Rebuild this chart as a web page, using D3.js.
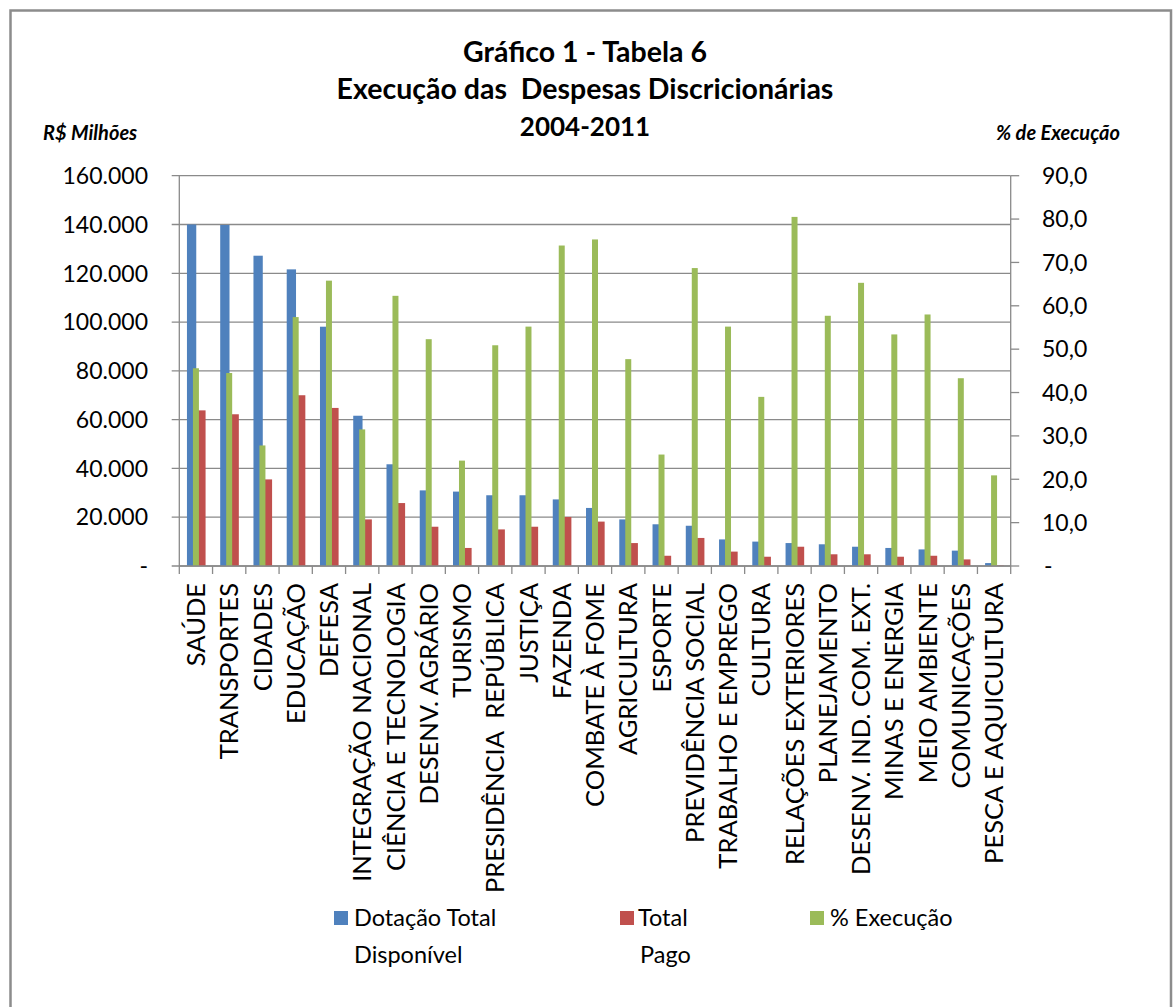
<!DOCTYPE html>
<html>
<head>
<meta charset="utf-8">
<script src="https://cdn.jsdelivr.net/npm/d3@7"></script>
<style>
  html, body { margin: 0; padding: 0; background: #fff; }
  svg { display: block; }
  text { font-family: Lato, "Open Sans", sans-serif; fill: #000; }
</style>
</head>
<body>
<svg id="chart" width="1174" height="1007"></svg>
<script>
const categories = ["SAÚDE","TRANSPORTES","CIDADES","EDUCAÇÃO","DEFESA","INTEGRAÇÃO NACIONAL","CIÊNCIA E TECNOLOGIA","DESENV. AGRÁRIO","TURISMO","PRESIDÊNCIA  REPÚBLICA","JUSTIÇA","FAZENDA","COMBATE À FOME","AGRICULTURA","ESPORTE","PREVIDÊNCIA SOCIAL","TRABALHO E EMPREGO","CULTURA","RELAÇÕES EXTERIORES","PLANEJAMENTO","DESENV. IND. COM. EXT.","MINAS E ENERGIA","MEIO AMBIENTE","COMUNICAÇÕES","PESCA E AQUICULTURA"];
const dotacao = [140000,139800,127200,121600,98100,61600,41700,31000,30500,29000,29000,27300,23800,19100,17100,16500,10900,10000,9400,8900,7900,7400,6800,6300,1200];
const pago = [63800,62200,35500,70000,64800,19100,25800,16100,7400,15000,16100,20100,18200,9400,4200,11500,5900,3800,7900,4800,4800,3800,4200,2700,200];
const execucao = [45.6,44.5,27.8,57.4,65.8,31.5,62.3,52.3,24.3,50.9,55.2,73.9,75.3,47.7,25.7,68.7,55.2,39.0,80.5,57.7,65.3,53.4,58.0,43.3,20.9];
const leftTicks = [0,20000,40000,60000,80000,100000,120000,140000,160000];
const leftTickLabels = ["-","20.000","40.000","60.000","80.000","100.000","120.000","140.000","160.000"];
const rightTicks = [0,10,20,30,40,50,60,70,80,90];
const rightTickLabels = ["-","10,0","20,0","30,0","40,0","50,0","60,0","70,0","80,0","90,0"];
const titleLines = ["Gráfico 1 - Tabela 6","Execução das  Despesas Discricionárias","2004-2011"];
const legendItems = [
  {lines:["Dotação Total","Disponível"], color:"#4F81BD"},
  {lines:["Total","Pago"], color:"#C0504D"},
  {lines:["% Execução"], color:"#9BBB59"}
];

const svg = d3.select("#chart");
const plot = {left:179.3, right:1010.7, top:175.7, bottom:566};
const gridColor = "#8a8a8a";

// frame
svg.append("rect").attr("x",10.5).attr("y",10.5).attr("width",1160.5).attr("height",1010)
  .attr("fill","#fff").attr("stroke","#8c8c8c").attr("stroke-width",2.5);

const x = d3.scaleBand().domain(categories).range([plot.left, plot.right]).padding(0);
const sub = d3.scaleBand().domain(["dot","pago"]).range([x.bandwidth()*0.23, x.bandwidth()*0.79]).padding(0);
const yL = d3.scaleLinear().domain([0,160000]).range([plot.bottom, plot.top]);
const yR = d3.scaleLinear().domain([0,90]).range([plot.bottom, plot.top]);

// gridlines with left ticks
svg.append("g").selectAll("line").data(leftTicks).join("line")
  .attr("x1", plot.left-7.6).attr("x2", plot.right)
  .attr("y1", d=>yL(d)).attr("y2", d=>yL(d))
  .attr("stroke", gridColor).attr("stroke-width",1.3);

// left axis line
svg.append("line").attr("x1",plot.left).attr("x2",plot.left).attr("y1",plot.top).attr("y2",plot.bottom+8)
  .attr("stroke",gridColor).attr("stroke-width",1.3);
// right axis line + ticks
svg.append("line").attr("x1",plot.right).attr("x2",plot.right).attr("y1",plot.top).attr("y2",plot.bottom+8)
  .attr("stroke",gridColor).attr("stroke-width",1.3);
svg.append("g").selectAll("line").data(rightTicks).join("line")
  .attr("x1", plot.right).attr("x2", plot.right+8.5)
  .attr("y1", d=>yR(d)).attr("y2", d=>yR(d))
  .attr("stroke", gridColor).attr("stroke-width",1.3);
// bottom category ticks
svg.append("g").selectAll("line").data(categories.slice(1)).join("line")
  .attr("x1", d=>x(d)).attr("x2", d=>x(d))
  .attr("y1", plot.bottom).attr("y2", plot.bottom+8)
  .attr("stroke", gridColor).attr("stroke-width",1.3);

// bars
const bars = svg.append("g");
bars.selectAll("rect.dot").data(categories).join("rect").attr("class","dot")
  .attr("x", d=>x(d)+sub("dot")).attr("width", sub.bandwidth())
  .attr("y", (d,i)=>yL(dotacao[i])).attr("height", (d,i)=>plot.bottom-yL(dotacao[i]))
  .attr("fill","#4F81BD");
bars.selectAll("rect.pago").data(categories).join("rect").attr("class","pago")
  .attr("x", d=>x(d)+sub("pago")).attr("width", sub.bandwidth())
  .attr("y", (d,i)=>yL(pago[i])).attr("height", (d,i)=>plot.bottom-yL(pago[i]))
  .attr("fill","#C0504D");
const gw = x.bandwidth()*0.18;
bars.selectAll("rect.exe").data(categories).join("rect").attr("class","exe")
  .attr("x", d=>x(d)+x.bandwidth()/2-gw/2).attr("width", gw)
  .attr("y", (d,i)=>yR(execucao[i])).attr("height", (d,i)=>plot.bottom-yR(execucao[i]))
  .attr("fill","#9BBB59");

// redraw bottom axis line on top
svg.append("line").attr("x1",plot.left).attr("x2",plot.right).attr("y1",plot.bottom).attr("y2",plot.bottom)
  .attr("stroke",gridColor).attr("stroke-width",1.3);

// left tick labels
svg.append("g").selectAll("text").data(leftTicks).join("text")
  .attr("x",148).attr("y", d=>yL(d)).attr("dy","0.36em")
  .attr("text-anchor","end").attr("font-size",23)
  .attr("fill","#222")
  .text((d,i)=>leftTickLabels[i]);
// right tick labels
svg.append("g").selectAll("text").data(rightTicks).join("text")
  .attr("x", d=> d===0 ? 1044 : 1042).attr("y", d=>yR(d)).attr("dy","0.36em")
  .attr("text-anchor","start").attr("font-size",23)
  .attr("fill","#222")
  .text((d,i)=>rightTickLabels[i]);

// category labels
svg.append("g").selectAll("text").data(categories).join("text")
  .attr("transform", d=>`translate(${x(d)+x.bandwidth()/2},583) rotate(-90)`)
  .attr("text-anchor","end").attr("dy","0.36em").attr("font-size",25.5)
  .attr("fill","#222")
  .style("white-space","pre")
  .text(d=>d);

// titles
svg.append("g").selectAll("text").data(titleLines).join("text")
  .attr("x",585).attr("y",(d,i)=>[52,89,127][i]).attr("dy","0.36em")
  .attr("text-anchor","middle").attr("font-size",(d,i)=> i===2 ? 26 : 28.5).attr("font-weight","bold")
  .style("white-space","pre")
  .text(d=>d);

svg.append("text").attr("x",43).attr("y",133).attr("dy","0.36em")
  .attr("font-size",20).attr("font-weight","bold").attr("font-style","italic")
  .text("R$ Milhões");
svg.append("text").attr("x",996).attr("y",133).attr("dy","0.36em")
  .attr("font-size",20).attr("font-weight","bold").attr("font-style","italic")
  .text("% de Execução");

// legend
const legX = [334, 620, 810];
const leg = svg.append("g").selectAll("g").data(legendItems).join("g")
  .attr("transform",(d,i)=>`translate(${legX[i]},918)`);
leg.append("rect").attr("x",0).attr("y",-7).attr("width",14).attr("height",14).attr("fill",d=>d.color);
leg.each(function(d,i){
  const g = d3.select(this);
  d.lines.forEach((t,j)=>{
    g.append("text").attr("x", i===1 && j===0 ? 18 : 20).attr("y", j*37).attr("dy","0.36em")
      .attr("font-size",23.5).attr("fill","#222").text(t);
  });
});
</script>
</body>
</html>
